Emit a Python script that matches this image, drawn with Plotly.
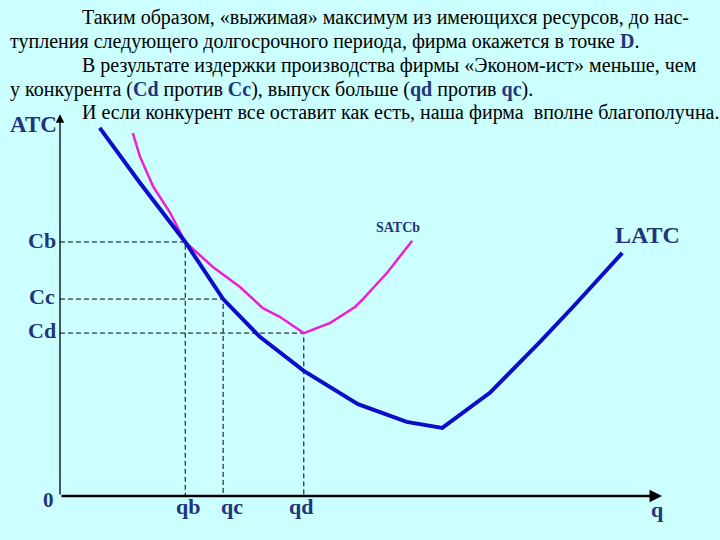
import plotly.graph_objects as go

# Output q (0..100 scale) and average total cost (0..100 scale)
latc_q = [6.6, 13.3, 20.8, 27.1, 33.2, 40.5, 49.5, 57.6, 63.5, 71.4, 79.7, 85.2, 93.4]
latc_c = [97.4, 82.8, 67.2, 52.1, 42.1, 33.1, 24.3, 19.6, 18.0, 27.3, 40.7, 50.0, 64.3]

satcb_q = [12.1, 13.3, 15.5, 18.3, 20.8, 25.4, 29.9, 33.7, 36.5, 40.5, 44.9, 49.0, 50.2, 54.3, 58.5]
satcb_c = [96.0, 89.7, 81.8, 74.9, 67.2, 60.6, 55.3, 49.7, 47.4, 43.1, 45.8, 50.0, 51.9, 59.0, 67.5]

q_names = ["qb", "qc", "qd"]
q_vals = [20.8, 27.1, 40.5]
c_names = ["Cb", "Cc", "Cd"]
c_vals = [67.2, 52.1, 43.1]

text_lines = [
    "Таким образом, «выжимая» максимум из имеющихся ресурсов, до нас-",
    "тупления следующего долгосрочного периода, фирма окажется в точке <b>D</b>.",
    "В результате издержки производства фирмы «Эконом-ист» меньше, чем",
    "у конкурента (<b>Cd</b> против <b>Cc</b>), выпуск больше (<b>qd</b> против <b>qc</b>).",
    "И если конкурент все оставит как есть, наша фирма  вполне благополучна.",
]

BG = "#CCFFFF"
DARK = "#22347A"
BLUE = "#0C0CCC"
MAG = "#F01ED0"

# plot area in pixels
L, R, T, B = 60, 662, 118, 496
W, H = 720, 540


def px(x):
    return (x - L) / (R - L)


def py(y):
    return (B - y) / (B - T)


def col(s):
    return s.replace("<b>", f"<b><span style='color:{DARK}'>").replace("</b>", "</span></b>")


fig = go.Figure()

# dashed guides
for qv, cv in zip(q_vals, c_vals):
    fig.add_trace(go.Scatter(x=[0, qv, qv], y=[cv, cv, 0], mode="lines",
                             line=dict(color="black", width=1, dash="5px,3px"),
                             hoverinfo="skip", showlegend=False))

fig.add_trace(go.Scatter(x=satcb_q, y=satcb_c, mode="lines",
                         line=dict(color=MAG, width=2.5), showlegend=False))
fig.add_trace(go.Scatter(x=latc_q, y=latc_c, mode="lines",
                         line=dict(color=BLUE, width=4), showlegend=False))

ann = []
# axes with arrows
ann.append(dict(x=100, y=0, ax=0, ay=0, xref="x", yref="y", axref="x", ayref="y",
                text="", showarrow=True, arrowhead=2, arrowsize=1, arrowwidth=2.5,
                arrowcolor="black"))
ann.append(dict(x=0, y=101, ax=0, ay=0, xref="x", yref="y", axref="x", ayref="y",
                text="", showarrow=True, arrowhead=2, arrowsize=1.3, arrowwidth=1.3,
                arrowcolor="black"))

serif = "Liberation Serif"


def lab(text, x, y, size, xanchor="center", color=DARK):
    ann.append(dict(x=px(x), y=py(y), xref="paper", yref="paper", text=text,
                    showarrow=False, xanchor=xanchor, yanchor="middle",
                    font=dict(family=serif, size=size, color=color)))


lab("<b>ATC</b>", 33, 125, 23)
for name, (x, y) in zip(c_names, [(42, 240), (42, 296), (42, 330)]):
    lab(f"<b>{name}</b>", x, y, 22)
lab("<b>0</b>", 48, 500, 21)
for name, (x, y) in zip(q_names, [(188, 506), (232, 506), (301, 506)]):
    lab(f"<b>{name}</b>", x, y, 22)
lab("<b>q</b>", 657, 509, 22)
lab("<b>SATCb</b>", 398, 227, 14)
lab("<b>LATC</b>", 647, 235, 24)

starts = [80, 8, 80, 8, 80]
ys = [18, 41, 65, 89, 113]
for s, x, y in zip(text_lines, starts, ys):
    lab(col(s), x, y, 20, xanchor="left", color="black")

fig.update_layout(
    width=W, height=H,
    margin=dict(l=L, r=W - R, t=T, b=H - B, autoexpand=False),
    paper_bgcolor=BG, plot_bgcolor=BG,
    xaxis=dict(range=[0, 100], visible=False, fixedrange=True),
    yaxis=dict(range=[0, 100], visible=False, fixedrange=True),
    annotations=ann,
    showlegend=False,
)

fig.write_html(
    "out.html",
    config={"displayModeBar": False},
    post_script="document.body.style.margin='0';document.body.style.overflow='hidden';",
)
